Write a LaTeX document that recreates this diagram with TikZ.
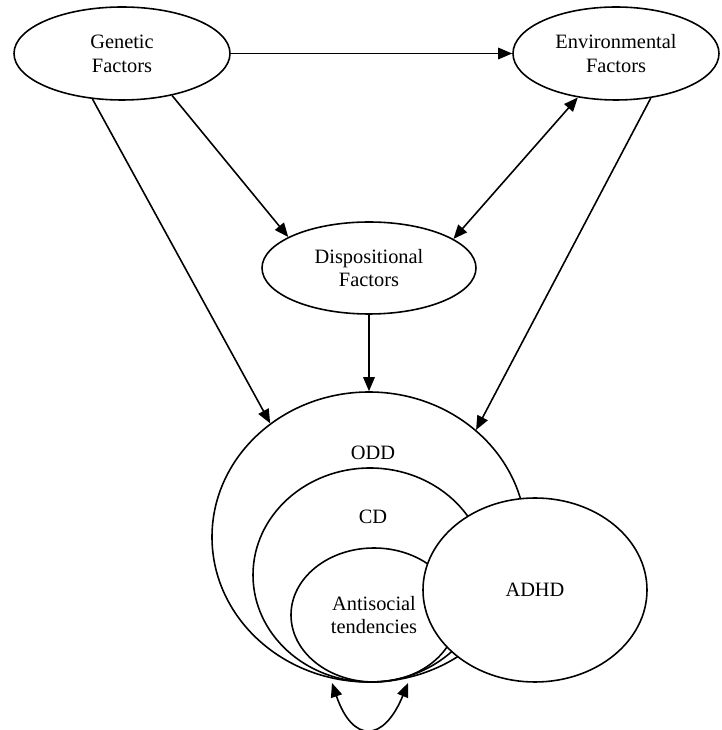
\documentclass[tikz,border=0pt]{standalone}
\usepackage{fontspec}
\setmainfont{Liberation Serif}
\usetikzlibrary{positioning, arrows.meta, shapes.geometric}

\begin{document}
\begin{tikzpicture}[
  every node/.style={font=\fontsize{11.6}{13.6}\selectfont},
  el/.style={draw, ellipse, line width=0.9pt, inner sep=0pt, align=center},
  ar/.style={-{Triangle[length=2.8mm, width=2.3mm]}, line width=0.9pt},
  bar/.style={{Triangle[length=2.8mm, width=2.3mm]}-{Triangle[length=2.8mm, width=2.3mm]}, line width=0.9pt},
]
\useasboundingbox (0,0) rectangle (14.42,14.6);

% Factors
\node[el, minimum width=4.32cm, minimum height=1.86cm] (gen) at (2.44,13.53) {Genetic\\Factors};
\node[el, minimum width=4.12cm, minimum height=1.86cm] (env) at (12.32,13.53) {Environmental\\Factors};
\node[el, minimum width=4.28cm, minimum height=1.84cm] (disp) at (7.38,9.24) {Dispositional\\Factors};

% Disorders
\node[el, minimum width=6.28cm, minimum height=5.8cm] (odd) at (7.38,3.86) {};
\node[el, minimum width=4.68cm, minimum height=4.28cm] (cd) at (7.40,3.10) {};
\node[el, minimum width=3.32cm, minimum height=2.68cm] (anti) at (7.48,2.30) {Antisocial\\tendencies};
\node[el, fill=white, minimum width=4.48cm, minimum height=3.68cm] (adhd) at (10.70,2.80) {ADHD};
\node (oddtxt) at (7.46,5.54) {ODD};
\node (cdtxt) at (7.46,4.26) {CD};

% Arrows
\draw[ar] (gen) -- (env);
\draw[ar] (gen.-123) -- (odd.131);
\draw[ar] (gen.-40) -- (disp.159);
\draw[bar] (env.-131) -- (disp.19);
\draw[ar] (env.-52) -- (odd.45);
\draw[ar] (disp) -- (odd);

% Loop under the circles
\coordinate (loopl) at (6.64,0.94);
\coordinate (loopr) at (8.16,0.94);
\draw[bar] (loopl) .. controls (7.05,-0.26) and (7.67,-0.26) .. (loopr);
\end{tikzpicture}
\end{document}
